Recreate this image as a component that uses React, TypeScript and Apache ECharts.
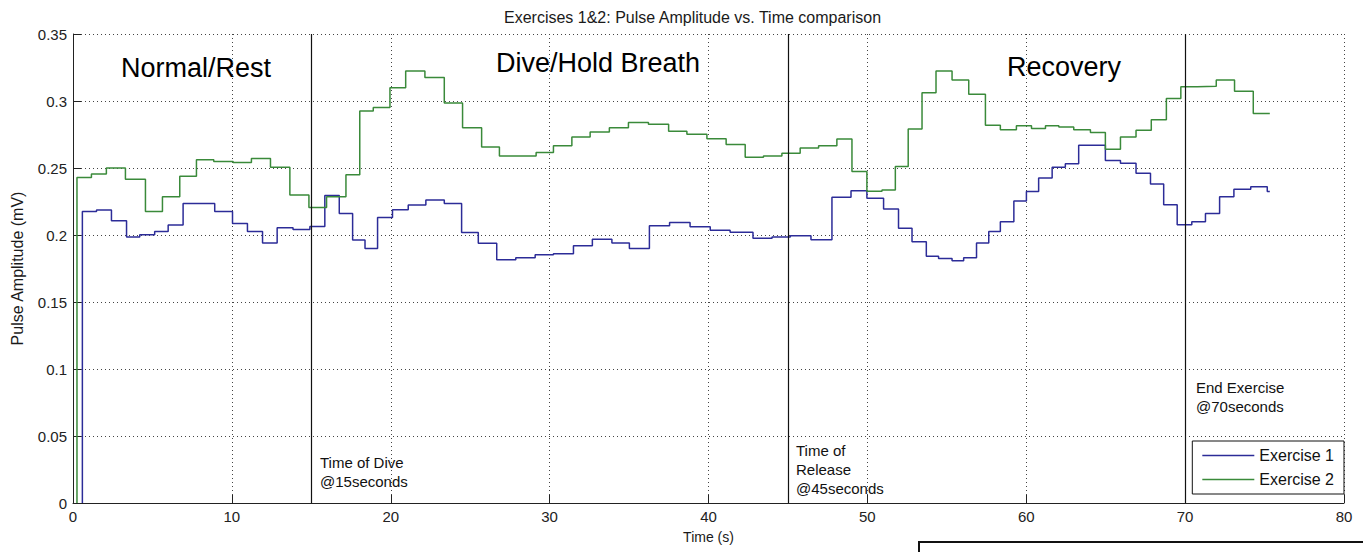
import React, { useEffect, useRef } from "react";
import * as echarts from "echarts";

// Exercise 1 (blue): [time (s), pulse amplitude (mV)] – each value holds until the next time
const exercise1: [number, number][] = [
  [0.59, 0], [0.59, 0.2176], [1.48, 0.2187], [2.42, 0.2106], [3.37, 0.1986], [4.2, 0.2001],
  [5.14, 0.2026], [5.99, 0.2074], [6.93, 0.2236], [8.92, 0.2176], [10.04, 0.2086],
  [10.98, 0.2026], [11.93, 0.1941], [12.85, 0.2054], [13.85, 0.2041], [14.91, 0.2064],
  [15.85, 0.2294], [16.76, 0.2161], [17.6, 0.1962], [18.38, 0.1899], [19.17, 0.2131],
  [20.11, 0.2189], [21.1, 0.2224], [22.21, 0.2261], [23.37, 0.2236], [24.46, 0.2019],
  [25.51, 0.1939], [26.67, 0.1816], [27.87, 0.1831], [29.09, 0.1852], [30.24, 0.1861],
  [31.5, 0.1919], [32.69, 0.1969], [33.92, 0.1941], [35.02, 0.1899], [36.28, 0.2069],
  [37.55, 0.2094], [38.84, 0.2061], [40.11, 0.2036], [41.36, 0.2021], [42.8, 0.1976],
  [44.0, 0.1986], [45.15, 0.1994], [46.45, 0.1964], [47.77, 0.2281], [48.97, 0.2331],
  [49.97, 0.2274], [51.02, 0.2194], [51.96, 0.2051], [52.81, 0.1949], [53.71, 0.1842],
  [54.48, 0.1824], [55.33, 0.1807], [56.06, 0.1831], [56.87, 0.1941], [57.64, 0.2026],
  [58.37, 0.2099], [59.22, 0.2254], [60.01, 0.2324], [60.78, 0.2426], [61.63, 0.2506],
  [62.46, 0.2531], [63.3, 0.2669], [64.98, 0.2556], [65.93, 0.2536], [66.91, 0.2461],
  [67.82, 0.2381], [68.65, 0.2226], [69.5, 0.2076], [70.42, 0.2099], [71.28, 0.2161],
  [72.17, 0.2286], [73.07, 0.2341], [74.13, 0.2361], [75.17, 0.2324], [75.33, 0.2324],
];

// Exercise 2 (green)
const exercise2: [number, number][] = [
  [0.25, 0], [0.25, 0.243], [1.16, 0.2456], [2.1, 0.25], [3.3, 0.2416], [4.56, 0.2176],
  [5.63, 0.2286], [6.72, 0.2439], [7.77, 0.2561], [8.86, 0.2549], [10.08, 0.2541],
  [11.23, 0.2571], [12.43, 0.2506], [13.65, 0.2299], [14.85, 0.2206], [15.96, 0.2286],
  [17.18, 0.2449], [18.05, 0.2926], [18.9, 0.2951], [19.95, 0.3098], [20.94, 0.3223],
  [22.15, 0.3176], [23.37, 0.2986], [24.52, 0.2801], [25.72, 0.2656], [26.84, 0.2589],
  [29.15, 0.2616], [30.24, 0.2666], [31.4, 0.2731], [32.55, 0.2768], [33.76, 0.2801],
  [34.96, 0.2839], [36.22, 0.2826], [37.49, 0.2774], [38.64, 0.2751], [39.9, 0.2719],
  [41.11, 0.2676], [42.31, 0.2581], [43.46, 0.2589], [44.62, 0.2611], [45.77, 0.2649],
  [46.93, 0.2666], [48.08, 0.2716], [49.03, 0.2474], [49.97, 0.2326], [50.92, 0.2336],
  [51.76, 0.2511], [52.57, 0.2791], [53.44, 0.3061], [54.32, 0.3223], [55.33, 0.3156],
  [56.38, 0.3051], [57.43, 0.2819], [58.37, 0.2786], [59.38, 0.2816], [60.33, 0.2794],
  [61.21, 0.2816], [62.05, 0.2806], [62.99, 0.2786], [64.04, 0.2764], [64.98, 0.2639],
  [65.93, 0.2731], [66.91, 0.2781], [67.87, 0.2861], [68.82, 0.3019], [69.73, 0.3106],
  [70.76, 0.3111], [71.96, 0.3156], [73.11, 0.3073], [74.29, 0.2906], [75.33, 0.2906],
];

const eventTimes = [15, 45, 70];
const seriesNames = ["Exercise 1", "Exercise 2"];
const phaseLabels = ["Normal/Rest", "Dive/Hold Breath", "Recovery"];
const eventLabels = ["Time of Dive\n@15seconds", "Time of\nRelease\n@45seconds", "End Exercise\n@70seconds"];
const titleText = "Exercises 1&2: Pulse Amplitude vs. Time comparison";
const xName = "Time (s)";
const yName = "Pulse Amplitude (mV)";

const FONT = "'Liberation Sans', Arial, Helvetica, sans-serif";

export default function App() {
  const ref = useRef<HTMLDivElement>(null);
  useEffect(() => {
    if (!ref.current) return;
    const chart = echarts.init(ref.current, null, { renderer: "svg" });
    const gridLine = { show: true, lineStyle: { color: "#444", width: 1, type: [1, 3] as any } };
    chart.setOption({
      animation: false,
      backgroundColor: "#ffffff",
      textStyle: { fontFamily: FONT },
      title: {
        text: titleText,
        left: 499,
        top: 4,
        textStyle: { fontSize: 16, fontWeight: "normal", color: "#1a1a1a", fontFamily: FONT },
      },
      grid: { left: 73, right: 19, top: 34, bottom: 49, containLabel: false },
      xAxis: {
        type: "value",
        min: 0,
        max: 80,
        interval: 10,
        name: xName,
        nameLocation: "middle",
        nameGap: 27,
        nameTextStyle: { fontSize: 14, color: "#1a1a1a", fontFamily: FONT },
        axisLine: { show: true, onZero: false, lineStyle: { color: "#222", width: 1 } },
        axisTick: { show: true, inside: true, length: 8, lineStyle: { color: "#222" } },
        axisLabel: { fontSize: 15, color: "#222", margin: 6, fontFamily: FONT },
        splitLine: gridLine,
      },
      yAxis: {
        type: "value",
        min: 0,
        max: 0.35,
        interval: 0.05,
        name: yName,
        nameLocation: "middle",
        nameGap: 48,
        nameTextStyle: { fontSize: 16, color: "#1a1a1a", fontFamily: FONT },
        axisLine: { show: true, onZero: false, lineStyle: { color: "#222", width: 1 } },
        axisTick: { show: true, inside: true, length: 8, lineStyle: { color: "#222" } },
        axisLabel: { fontSize: 15, color: "#222", margin: 6, fontFamily: FONT },
        splitLine: gridLine,
      },
      legend: {
        orient: "vertical",
        right: 19,
        top: 441,
        padding: [6, 10, 6, 10],
        itemGap: 7,
        itemWidth: 52,
        itemHeight: 1.5,
        icon: "rect",
        borderColor: "#111",
        borderWidth: 1,
        backgroundColor: "#fff",
        data: seriesNames,
        textStyle: { fontSize: 16, color: "#111", fontFamily: FONT, lineHeight: 17 },
      },
      series: [
        {
          name: seriesNames[0],
          type: "line",
          step: "end",
          symbol: "none",
          data: exercise1,
          color: "#2c2c98",
          lineStyle: { color: "#2c2c98", width: 1.5 },
          z: 3,
          markLine: {
            silent: true,
            symbol: ["none", "none"],
            label: { show: false },
            lineStyle: { color: "#111", width: 1.2, type: "solid" },
            data: eventTimes.map((t) => ({ xAxis: t })),
          },
        },
        {
          name: seriesNames[1],
          type: "line",
          step: "end",
          symbol: "none",
          data: exercise2,
          color: "#3a8a3a",
          lineStyle: { color: "#3a8a3a", width: 1.5 },
          z: 3,
        },
      ],
      graphic: [
        { type: "text", x: 196, y: 68, style: { text: phaseLabels[0], fontSize: 27, fontFamily: FONT, fill: "#000", textAlign: "center", textVerticalAlign: "middle" } },
        { type: "text", x: 598, y: 63, style: { text: phaseLabels[1], fontSize: 27, fontFamily: FONT, fill: "#000", textAlign: "center", textVerticalAlign: "middle" } },
        { type: "text", x: 1064, y: 67, style: { text: phaseLabels[2], fontSize: 27, fontFamily: FONT, fill: "#000", textAlign: "center", textVerticalAlign: "middle" } },
        { type: "text", x: 320, y: 453, style: { text: eventLabels[0], fontSize: 15, lineHeight: 19, fontFamily: FONT, fill: "#111", textAlign: "left", textVerticalAlign: "top" } },
        { type: "text", x: 796, y: 441, style: { text: eventLabels[1], fontSize: 15, lineHeight: 19, fontFamily: FONT, fill: "#111", textAlign: "left", textVerticalAlign: "top" } },
        { type: "text", x: 1196, y: 378, style: { text: eventLabels[2], fontSize: 15, lineHeight: 19, fontFamily: FONT, fill: "#111", textAlign: "left", textVerticalAlign: "top" } },
        { type: "rect", shape: { x: 919, y: 542, width: 470, height: 30 }, style: { fill: "#fff", stroke: "#111", lineWidth: 2 } },
      ],
    });
    return () => chart.dispose();
  }, []);
  return (
    <div
      ref={ref}
      style={{ position: "fixed", left: 0, top: 0, width: 1363, height: 552, background: "#fff" }}
    />
  );
}
